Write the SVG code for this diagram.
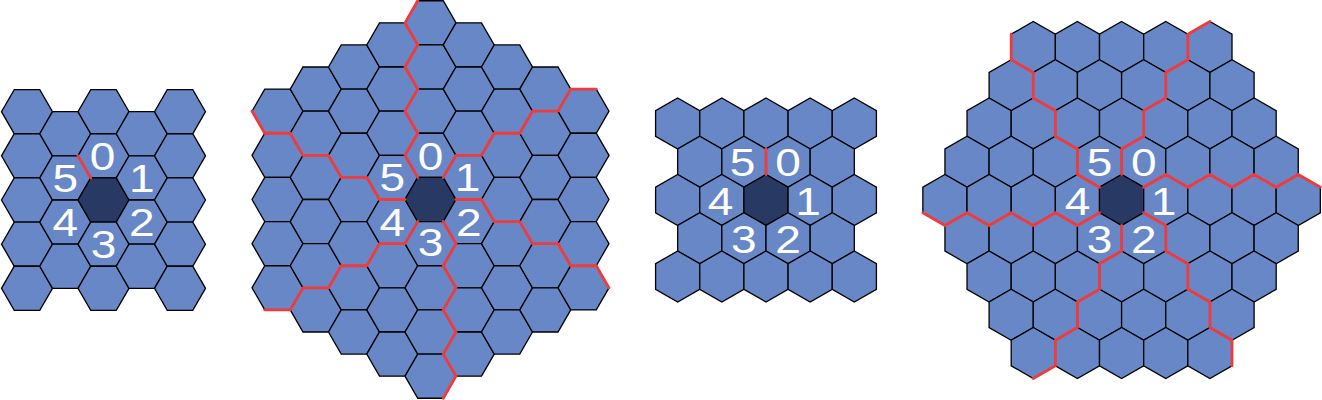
<svg xmlns="http://www.w3.org/2000/svg" width="1322" height="400" viewBox="0 0 1322 400">
<style>
.h{fill:#6787c7;stroke:#000;stroke-width:1.3;stroke-linejoin:miter}
.d{fill:#283a64}
.r{fill:none;stroke:#f23a3a;stroke-width:2.8;stroke-linecap:round;stroke-linejoin:round}
.t{font-family:"Liberation Sans",Arial,sans-serif;font-size:39px;fill:#fff;text-anchor:middle}
</style>
<defs>
<polygon id="f" points="25.5,0 12.75,22.08 -12.75,22.08 -25.5,0 -12.75,-22.08 12.75,-22.08"/>
<polygon id="p" points="0,-25.5 22.08,-12.75 22.08,12.75 0,25.5 -22.08,12.75 -22.08,-12.75"/>
</defs>
<rect width="1322" height="400" fill="#fff"/>

<g id="panel1">
<g id="panel1-hexes">
<use href="#f" class="h" x="27" y="111.67"/><use href="#f" class="h" x="27" y="155.83"/><use href="#f" class="h" x="27" y="200"/><use href="#f" class="h" x="27" y="244.17"/><use href="#f" class="h" x="27" y="288.33"/>
<use href="#f" class="h" x="65.25" y="133.75"/><use href="#f" class="h" x="65.25" y="177.92"/><use href="#f" class="h" x="65.25" y="222.08"/><use href="#f" class="h" x="65.25" y="266.25"/>
<use href="#f" class="h" x="103.5" y="111.67"/><use href="#f" class="h" x="103.5" y="155.83"/><use href="#f" class="h d" x="103.5" y="200"/><use href="#f" class="h" x="103.5" y="244.17"/><use href="#f" class="h" x="103.5" y="288.33"/>
<use href="#f" class="h" x="141.75" y="133.75"/><use href="#f" class="h" x="141.75" y="177.92"/><use href="#f" class="h" x="141.75" y="222.08"/><use href="#f" class="h" x="141.75" y="266.25"/>
<use href="#f" class="h" x="180" y="111.67"/><use href="#f" class="h" x="180" y="155.83"/><use href="#f" class="h" x="180" y="200"/><use href="#f" class="h" x="180" y="244.17"/><use href="#f" class="h" x="180" y="288.33"/>
</g>
<g id="panel1-edges"><polyline class="r" points="90.75,177.92 78,155.83"/></g>
<g id="panel1-labels">
<text class="t" transform="translate(102.5,169.8) scale(1.18,1)">0</text>
<text class="t" transform="translate(141.75,191.9) scale(1.18,1)">1</text>
<text class="t" transform="translate(141.75,236.1) scale(1.18,1)">2</text>
<text class="t" transform="translate(103.5,258.2) scale(1.18,1)">3</text>
<text class="t" transform="translate(65.25,236.1) scale(1.18,1)">4</text>
<text class="t" transform="translate(65.25,191.9) scale(1.18,1)">5</text>
</g>
</g>

<g id="panel2">
<g id="panel2-hexes">
<use href="#f" class="h" x="277.5" y="111.17"/><use href="#f" class="h" x="277.5" y="155.33"/><use href="#f" class="h" x="277.5" y="199.5"/><use href="#f" class="h" x="277.5" y="243.67"/><use href="#f" class="h" x="277.5" y="287.83"/>
<use href="#f" class="h" x="315.75" y="89.08"/><use href="#f" class="h" x="315.75" y="133.25"/><use href="#f" class="h" x="315.75" y="177.42"/><use href="#f" class="h" x="315.75" y="221.58"/><use href="#f" class="h" x="315.75" y="265.75"/><use href="#f" class="h" x="315.75" y="309.92"/>
<use href="#f" class="h" x="354" y="67"/><use href="#f" class="h" x="354" y="111.17"/><use href="#f" class="h" x="354" y="155.33"/><use href="#f" class="h" x="354" y="199.5"/><use href="#f" class="h" x="354" y="243.67"/><use href="#f" class="h" x="354" y="287.83"/><use href="#f" class="h" x="354" y="332"/>
<use href="#f" class="h" x="392.25" y="44.92"/><use href="#f" class="h" x="392.25" y="89.08"/><use href="#f" class="h" x="392.25" y="133.25"/><use href="#f" class="h" x="392.25" y="177.42"/><use href="#f" class="h" x="392.25" y="221.58"/><use href="#f" class="h" x="392.25" y="265.75"/><use href="#f" class="h" x="392.25" y="309.92"/><use href="#f" class="h" x="392.25" y="354.08"/>
<use href="#f" class="h" x="430.5" y="22.83"/><use href="#f" class="h" x="430.5" y="67"/><use href="#f" class="h" x="430.5" y="111.17"/><use href="#f" class="h" x="430.5" y="155.33"/><use href="#f" class="h d" x="430.5" y="199.5"/><use href="#f" class="h" x="430.5" y="243.67"/><use href="#f" class="h" x="430.5" y="287.83"/><use href="#f" class="h" x="430.5" y="332"/><use href="#f" class="h" x="430.5" y="376.17"/>
<use href="#f" class="h" x="468.75" y="44.92"/><use href="#f" class="h" x="468.75" y="89.08"/><use href="#f" class="h" x="468.75" y="133.25"/><use href="#f" class="h" x="468.75" y="177.42"/><use href="#f" class="h" x="468.75" y="221.58"/><use href="#f" class="h" x="468.75" y="265.75"/><use href="#f" class="h" x="468.75" y="309.92"/><use href="#f" class="h" x="468.75" y="354.08"/>
<use href="#f" class="h" x="507" y="67"/><use href="#f" class="h" x="507" y="111.17"/><use href="#f" class="h" x="507" y="155.33"/><use href="#f" class="h" x="507" y="199.5"/><use href="#f" class="h" x="507" y="243.67"/><use href="#f" class="h" x="507" y="287.83"/><use href="#f" class="h" x="507" y="332"/>
<use href="#f" class="h" x="545.25" y="89.08"/><use href="#f" class="h" x="545.25" y="133.25"/><use href="#f" class="h" x="545.25" y="177.42"/><use href="#f" class="h" x="545.25" y="221.58"/><use href="#f" class="h" x="545.25" y="265.75"/><use href="#f" class="h" x="545.25" y="309.92"/>
<use href="#f" class="h" x="583.5" y="111.17"/><use href="#f" class="h" x="583.5" y="155.33"/><use href="#f" class="h" x="583.5" y="199.5"/><use href="#f" class="h" x="583.5" y="243.67"/><use href="#f" class="h" x="583.5" y="287.83"/>
</g>
<g id="panel2-edges">
<polyline class="r" points="417.75,177.42 405,155.33 417.75,133.25 405,111.17 417.75,89.08 405,67 417.75,44.92 405,22.83 417.75,0.75"/>
<polyline class="r" points="443.25,177.42 456,155.33 481.5,155.33 494.25,133.25 519.75,133.25 532.5,111.17 558,111.17 570.75,89.08 596.25,89.08"/>
<polyline class="r" points="456,199.5 481.5,199.5 494.25,221.58 519.75,221.58 532.5,243.67 558,243.67 570.75,265.75 596.25,265.75 609,287.83"/>
<polyline class="r" points="443.25,221.58 456,243.67 443.25,265.75 456,287.83 443.25,309.92 456,332 443.25,354.08 456,376.17 443.25,398.25"/>
<polyline class="r" points="417.75,221.58 405,243.67 379.5,243.67 366.75,265.75 341.25,265.75 328.5,287.83 303,287.83 290.25,309.92 264.75,309.92"/>
<polyline class="r" points="405,199.5 379.5,199.5 366.75,177.42 341.25,177.42 328.5,155.33 303,155.33 290.25,133.25 264.75,133.25 252,111.17"/>
</g>
<g id="panel2-labels">
<text class="t" transform="translate(430.5,170) scale(1.18,1)">0</text>
<text class="t" transform="translate(467.5,191.4) scale(1.18,1)">1</text>
<text class="t" transform="translate(468.75,235.6) scale(1.18,1)">2</text>
<text class="t" transform="translate(430.5,256) scale(1.18,1)">3</text>
<text class="t" transform="translate(392.25,235.6) scale(1.18,1)">4</text>
<text class="t" transform="translate(392.25,191.4) scale(1.18,1)">5</text>
</g>
</g>

<g id="panel3">
<g id="panel3-hexes">
<use href="#p" class="h" x="677.67" y="123.5"/><use href="#p" class="h" x="721.83" y="123.5"/><use href="#p" class="h" x="766" y="123.5"/><use href="#p" class="h" x="810.17" y="123.5"/><use href="#p" class="h" x="854.33" y="123.5"/>
<use href="#p" class="h" x="699.75" y="161.75"/><use href="#p" class="h" x="743.92" y="161.75"/><use href="#p" class="h" x="788.08" y="161.75"/><use href="#p" class="h" x="832.25" y="161.75"/>
<use href="#p" class="h" x="677.67" y="200"/><use href="#p" class="h" x="721.83" y="200"/><use href="#p" class="h d" x="766" y="200"/><use href="#p" class="h" x="810.17" y="200"/><use href="#p" class="h" x="854.33" y="200"/>
<use href="#p" class="h" x="699.75" y="238.25"/><use href="#p" class="h" x="743.92" y="238.25"/><use href="#p" class="h" x="788.08" y="238.25"/><use href="#p" class="h" x="832.25" y="238.25"/>
<use href="#p" class="h" x="677.67" y="276.5"/><use href="#p" class="h" x="721.83" y="276.5"/><use href="#p" class="h" x="766" y="276.5"/><use href="#p" class="h" x="810.17" y="276.5"/><use href="#p" class="h" x="854.33" y="276.5"/>
</g>
<g id="panel3-edges"><polyline class="r" points="766,174.5 766,149"/></g>
<g id="panel3-labels">
<text class="t" transform="translate(788.08,176) scale(1.18,1)">0</text>
<text class="t" transform="translate(808,214.5) scale(1.18,1)">1</text>
<text class="t" transform="translate(788.08,252.5) scale(1.18,1)">2</text>
<text class="t" transform="translate(743.92,252.5) scale(1.18,1)">3</text>
<text class="t" transform="translate(720.5,215) scale(1.18,1)">4</text>
<text class="t" transform="translate(742.5,176) scale(1.18,1)">5</text>
</g>
</g>

<g id="panel4">
<g id="panel4-hexes">
<use href="#p" class="h" x="1033.27" y="47"/><use href="#p" class="h" x="1077.43" y="47"/><use href="#p" class="h" x="1121.6" y="47"/><use href="#p" class="h" x="1165.77" y="47"/><use href="#p" class="h" x="1209.93" y="47"/>
<use href="#p" class="h" x="1011.18" y="85.25"/><use href="#p" class="h" x="1055.35" y="85.25"/><use href="#p" class="h" x="1099.52" y="85.25"/><use href="#p" class="h" x="1143.68" y="85.25"/><use href="#p" class="h" x="1187.85" y="85.25"/><use href="#p" class="h" x="1232.02" y="85.25"/>
<use href="#p" class="h" x="989.1" y="123.5"/><use href="#p" class="h" x="1033.27" y="123.5"/><use href="#p" class="h" x="1077.43" y="123.5"/><use href="#p" class="h" x="1121.6" y="123.5"/><use href="#p" class="h" x="1165.77" y="123.5"/><use href="#p" class="h" x="1209.93" y="123.5"/><use href="#p" class="h" x="1254.1" y="123.5"/>
<use href="#p" class="h" x="967.02" y="161.75"/><use href="#p" class="h" x="1011.18" y="161.75"/><use href="#p" class="h" x="1055.35" y="161.75"/><use href="#p" class="h" x="1099.52" y="161.75"/><use href="#p" class="h" x="1143.68" y="161.75"/><use href="#p" class="h" x="1187.85" y="161.75"/><use href="#p" class="h" x="1232.02" y="161.75"/><use href="#p" class="h" x="1276.18" y="161.75"/>
<use href="#p" class="h" x="944.93" y="200"/><use href="#p" class="h" x="989.1" y="200"/><use href="#p" class="h" x="1033.27" y="200"/><use href="#p" class="h" x="1077.43" y="200"/><use href="#p" class="h d" x="1121.6" y="200"/><use href="#p" class="h" x="1165.77" y="200"/><use href="#p" class="h" x="1209.93" y="200"/><use href="#p" class="h" x="1254.1" y="200"/><use href="#p" class="h" x="1298.27" y="200"/>
<use href="#p" class="h" x="967.02" y="238.25"/><use href="#p" class="h" x="1011.18" y="238.25"/><use href="#p" class="h" x="1055.35" y="238.25"/><use href="#p" class="h" x="1099.52" y="238.25"/><use href="#p" class="h" x="1143.68" y="238.25"/><use href="#p" class="h" x="1187.85" y="238.25"/><use href="#p" class="h" x="1232.02" y="238.25"/><use href="#p" class="h" x="1276.18" y="238.25"/>
<use href="#p" class="h" x="989.1" y="276.5"/><use href="#p" class="h" x="1033.27" y="276.5"/><use href="#p" class="h" x="1077.43" y="276.5"/><use href="#p" class="h" x="1121.6" y="276.5"/><use href="#p" class="h" x="1165.77" y="276.5"/><use href="#p" class="h" x="1209.93" y="276.5"/><use href="#p" class="h" x="1254.1" y="276.5"/>
<use href="#p" class="h" x="1011.18" y="314.75"/><use href="#p" class="h" x="1055.35" y="314.75"/><use href="#p" class="h" x="1099.52" y="314.75"/><use href="#p" class="h" x="1143.68" y="314.75"/><use href="#p" class="h" x="1187.85" y="314.75"/><use href="#p" class="h" x="1232.02" y="314.75"/>
<use href="#p" class="h" x="1033.27" y="353"/><use href="#p" class="h" x="1077.43" y="353"/><use href="#p" class="h" x="1121.6" y="353"/><use href="#p" class="h" x="1165.77" y="353"/><use href="#p" class="h" x="1209.93" y="353"/>
</g>
<g id="panel4-edges">
<polyline class="r" points="1121.6,174.5 1121.6,149 1143.68,136.25 1143.68,110.75 1165.77,98 1165.77,72.5 1187.85,59.75 1187.85,34.25 1209.93,21.5"/>
<polyline class="r" points="1143.68,187.25 1165.77,174.5 1187.85,187.25 1209.93,174.5 1232.02,187.25 1254.1,174.5 1276.18,187.25 1298.27,174.5 1320.35,187.25"/>
<polyline class="r" points="1143.68,212.75 1165.77,225.5 1165.77,251 1187.85,263.75 1187.85,289.25 1209.93,302 1209.93,327.5 1232.02,340.25 1232.02,365.75"/>
<polyline class="r" points="1121.6,225.5 1121.6,251 1099.52,263.75 1099.52,289.25 1077.43,302 1077.43,327.5 1055.35,340.25 1055.35,365.75 1033.27,378.5"/>
<polyline class="r" points="1099.52,212.75 1077.43,225.5 1055.35,212.75 1033.27,225.5 1011.18,212.75 989.1,225.5 967.02,212.75 944.93,225.5 922.85,212.75"/>
<polyline class="r" points="1099.52,187.25 1077.43,174.5 1077.43,149 1055.35,136.25 1055.35,110.75 1033.27,98 1033.27,72.5 1011.18,59.75 1011.18,34.25"/>
</g>
<g id="panel4-labels">
<text class="t" transform="translate(1143.68,176) scale(1.18,1)">0</text>
<text class="t" transform="translate(1163.5,214.5) scale(1.18,1)">1</text>
<text class="t" transform="translate(1143.68,252.5) scale(1.18,1)">2</text>
<text class="t" transform="translate(1099.52,252.5) scale(1.18,1)">3</text>
<text class="t" transform="translate(1077.43,214.5) scale(1.18,1)">4</text>
<text class="t" transform="translate(1099.52,176) scale(1.18,1)">5</text>
</g>
</g>
</svg>
